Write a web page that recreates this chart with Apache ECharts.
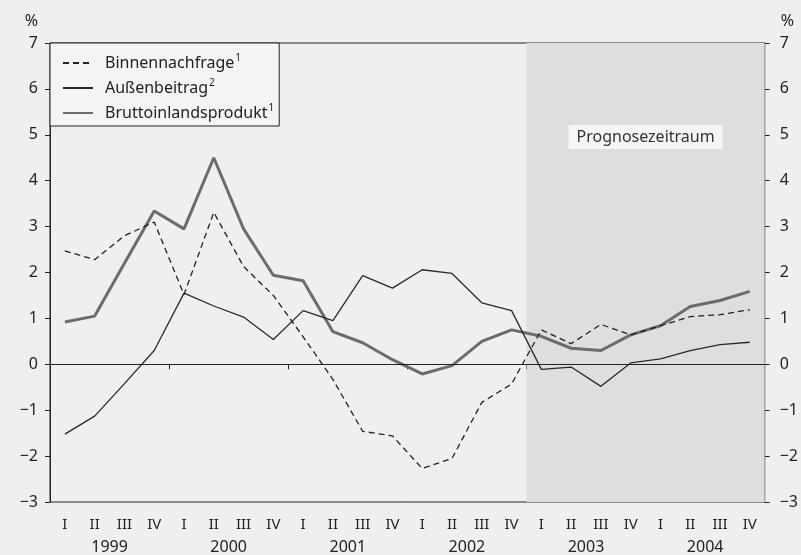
<!DOCTYPE html>
<html>
<head>
<meta charset="utf-8">
<script src="https://cdn.jsdelivr.net/npm/echarts@6/dist/echarts.min.js"></script>
<style>
html,body{margin:0;padding:0;background:#efefef;}
#c{width:801px;height:555px;}
</style>
</head>
<body>
<div id="c"></div>
<script>
var years = ['1999','2000','2001','2002','2003','2004'];
var quarters = ['I','II','III','IV','I','II','III','IV','I','II','III','IV','I','II','III','IV','I','II','III','IV','I','II','III','IV'];
var binnennachfrage = [2.47, 2.28, 2.8, 3.1, 1.52, 3.31, 2.13, 1.5, 0.6, -0.33, -1.46, -1.56, -2.27, -2.05, -0.83, -0.43, 0.75, 0.45, 0.87, 0.64, 0.84, 1.04, 1.08, 1.19];
var aussenbeitrag = [-1.52, -1.13, -0.42, 0.3, 1.55, 1.27, 1.03, 0.54, 1.17, 0.95, 1.93, 1.66, 2.06, 1.98, 1.34, 1.17, -0.11, -0.06, -0.48, 0.03, 0.12, 0.3, 0.43, 0.48];
var bip = [0.92, 1.05, 2.2, 3.34, 2.95, 4.5, 2.95, 1.94, 1.82, 0.71, 0.47, 0.1, -0.21, -0.03, 0.5, 0.75, 0.61, 0.35, 0.3, 0.64, 0.84, 1.26, 1.39, 1.59];
var forecastStart = 16, forecastEnd = 24;
var names = ['Binnennachfrage', 'Außenbeitrag', 'Bruttoinlandsprodukt'];
var sups = {'Binnennachfrage':'1', 'Außenbeitrag':'2', 'Bruttoinlandsprodukt':'1'};

var FONT = 'Noto Sans';
var fmtY = function(v){ return v < 0 ? '\u2212' + (-v) : String(v); };
var chart = echarts.init(document.getElementById('c'), null, {renderer:'canvas'});
var yCommon = {
  type:'value', min:-3, max:7, interval:1,
  axisLine:{show:true, lineStyle:{color:'#222', width:1}},
  axisTick:{show:true, inside:false, length:5, lineStyle:{color:'#222'}},
  splitLine:{show:false},
  axisLabel:{color:'#222', fontSize:16, fontFamily:FONT, margin:12, formatter:fmtY},
  name:'%', nameLocation:'end', nameGap:14
};
chart.setOption({
  backgroundColor:'#efefef',
  animation:false,
  textStyle:{fontFamily:FONT},
  grid:{left:50, right:34, top:43, bottom:52, show:true, borderColor:'#222', borderWidth:1, backgroundColor:'transparent'},
  legend:{
    show:true, orient:'vertical', left:50, top:43,
    data:names,
    itemWidth:30, itemHeight:14, itemGap:7,
    padding:[10, 5, 5, 12],
    backgroundColor:'#f4f4f4', borderColor:'#222', borderWidth:1, borderRadius:0,
    itemStyle:{opacity:0, borderWidth:0},
    formatter:function(n){ return '{t|' + n + '}{s|' + sups[n] + '}'; },
    textStyle:{
      color:'#222', fontSize:16, fontFamily:FONT,
      rich:{
        t:{fontSize:16, fontFamily:FONT, color:'#222', padding:[0,0,0,7]},
        s:{fontSize:10, fontFamily:FONT, color:'#222', verticalAlign:'top', padding:[0,0,10,1]}
      }
    }
  },
  xAxis:[
    {type:'category', data:years, position:'bottom', boundaryGap:true,
     axisLine:{show:true, lineStyle:{color:'#222', width:1}},
     axisTick:{show:true, inside:false, length:5, lineStyle:{color:'#222'}},
     axisLabel:{color:'#222', fontSize:16, fontFamily:FONT, margin:37}},
    {type:'category', data:quarters, position:'bottom', boundaryGap:true,
     axisLine:{show:false}, axisTick:{show:false},
     axisLabel:{color:'#222', fontSize:15, fontFamily:FONT, margin:15, interval:0}},
    {type:'value', min:0, max:24, show:false}
  ],
  yAxis:[
    Object.assign({}, yCommon, {position:'left', nameTextStyle:{color:'#222', fontSize:16, fontFamily:FONT, align:'right', padding:[0,12,0,0]}}),
    Object.assign({}, yCommon, {position:'right', nameTextStyle:{color:'#222', fontSize:16, fontFamily:FONT, align:'left', padding:[0,0,0,16]}, axisLabel:Object.assign({}, yCommon.axisLabel, {margin:15})})
  ],
  series:[
    {name:'forecast', type:'line', xAxisIndex:2, yAxisIndex:0, data:[], silent:true,
     markArea:{silent:true, itemStyle:{color:'#dedede'},
       label:{show:true, position:'insideTop', distance:82, color:'#333', fontSize:16, fontFamily:FONT,
              backgroundColor:'#f5f5f5', padding:[4,8,4,8]},
       data:[[{name:'Prognosezeitraum', xAxis:forecastStart},{xAxis:forecastEnd}]]}},
    {name:'Bruttoinlandsprodukt', type:'line', xAxisIndex:1, yAxisIndex:0, data:bip,
     symbol:'none', showSymbol:false, z:3,
     lineStyle:{color:'#6c6c6c', width:3}, itemStyle:{color:'#6c6c6c'},
     markLine:{silent:true, symbol:'none', label:{show:false}, lineStyle:{color:'#222', width:1, type:'solid'},
       data:[{yAxis:0}]}},
    {name:'Außenbeitrag', type:'line', xAxisIndex:1, yAxisIndex:0, data:aussenbeitrag,
     symbol:'none', showSymbol:false, z:4,
     lineStyle:{color:'#2a2a2a', width:1.3}, itemStyle:{color:'#2a2a2a'}},
    {name:'Binnennachfrage', type:'line', xAxisIndex:1, yAxisIndex:0, data:binnennachfrage,
     symbol:'none', showSymbol:false, z:4,
     lineStyle:{color:'#222', width:1.3, type:[6,4]}, itemStyle:{color:'#222'}}
  ]
});
</script>
</body>
</html>
